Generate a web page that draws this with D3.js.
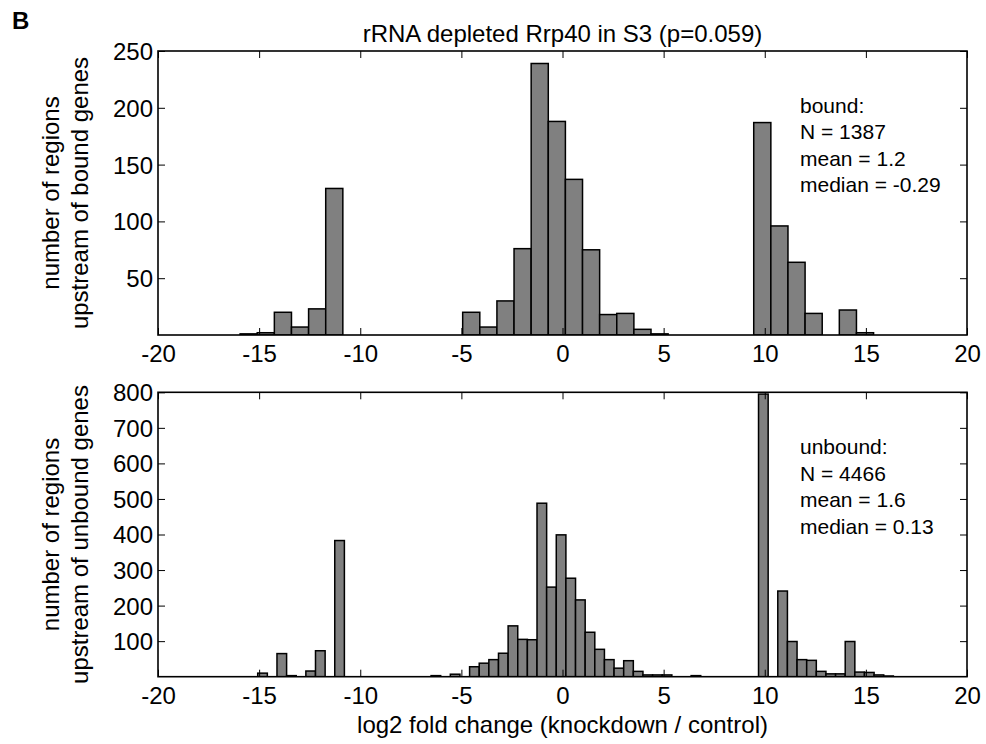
<!DOCTYPE html>
<html>
<head>
<meta charset="utf-8">
<script src="https://cdn.jsdelivr.net/npm/d3@7"></script>
<style>
  html, body { margin: 0; padding: 0; background: #fff; }
  svg { display: block; }
  text { font-family: "Liberation Sans", Arial, sans-serif; fill: #000; }
</style>
</head>
<body>
<svg id="chart" width="986" height="744"></svg>
<script>
// ---------- data ----------
const titleText = "rRNA depleted Rrp40 in S3 (p=0.059)";
const xTicks = [-20, -15, -10, -5, 0, 5, 10, 15, 20];

// bound panel histogram (37 bins)
const boundBinStart = -15.94;
const boundBinWidth = 0.8465;
const boundCounts = [1, 2, 20, 7, 23, 129, 0, 0, 0, 0, 0, 0, 0,
  20, 7, 30, 76, 239, 188, 137, 75, 18, 19, 5, 1,
  0, 0, 0, 0, 0, 187, 96, 64, 19, 0, 22, 2];
const boundYTicks = [50, 100, 150, 200, 250];
const boundStats = ["bound:", "N = 1387", "mean = 1.2", "median = -0.29"];
const boundYLabel = ["number of regions", "upstream of bound genes"];

// unbound panel histogram (66 bins)
const unboundBinStart = -15.07;
const unboundBinWidth = 0.4762;
const unboundCounts = [10, 0, 65, 3, 0, 16, 73, 0, 383,
  0, 0, 0, 0, 0, 0, 0, 0, 0,
  3, 0, 7, 0, 28, 38, 48, 66, 143, 105, 104, 488, 252, 399, 277, 216, 125, 77, 48, 24, 45, 15, 5, 5, 5,
  0, 0, 3, 0, 0, 0, 0, 0, 0,
  795, 0, 241, 99, 48, 46, 15, 8, 8, 99, 13, 12, 5, 2];
const unboundYTicks = [100, 200, 300, 400, 500, 600, 700, 800];
const unboundStats = ["unbound:", "N = 4466", "mean = 1.6", "median = 0.13"];
const unboundYLabel = ["number of regions", "upstream of unbound genes"];

const xLabel = "log2 fold change (knockdown / control)";

// ---------- layout ----------
const svg = d3.select("#chart");
const left = 158, right = 967;
const panels = [
  { top: 51, bottom: 335, yMax: 250, start: boundBinStart, width: boundBinWidth, counts: boundCounts,
    yTicks: boundYTicks, stats: boundStats, ylab: boundYLabel, id: "p1" },
  { top: 392.3, bottom: 676.7, yMax: 800, start: unboundBinStart, width: unboundBinWidth, counts: unboundCounts,
    yTicks: unboundYTicks, stats: unboundStats, ylab: unboundYLabel, id: "p2" }
];

const x = d3.scaleLinear().domain([-20, 20]).range([left, right]);
const tickLen = 7;
const fmt = d => String(d); // plain hyphen-minus as in the reference

// panel letter
svg.append("text").attr("x", 12).attr("y", 29)
  .attr("font-size", 24).attr("font-weight", "bold").text("B");

// title
svg.append("text").attr("x", (left + right) / 2).attr("y", 42)
  .attr("text-anchor", "middle").attr("font-size", 24).text(titleText);

panels.forEach(p => {
  const y = d3.scaleLinear().domain([0, p.yMax]).range([p.bottom, p.top]);
  const g = svg.append("g");

  g.append("clipPath").attr("id", "clip-" + p.id)
    .append("rect").attr("x", left).attr("y", p.top)
    .attr("width", right - left).attr("height", p.bottom - p.top);

  const bins = p.counts.map((c, i) => ({
    x0: p.start + i * p.width,
    x1: p.start + (i + 1) * p.width,
    c: c
  })).filter(d => d.c > 0);

  g.append("g").attr("clip-path", `url(#clip-${p.id})`)
    .selectAll("rect").data(bins).join("rect")
    .attr("x", d => x(d.x0))
    .attr("width", d => x(d.x1) - x(d.x0))
    .attr("y", d => y(d.c))
    .attr("height", d => y(0) - y(d.c))
    .attr("fill", "#808080")
    .attr("stroke", "#000")
    .attr("stroke-width", 1.5);

  // axes: bottom (inward ticks), top, left, right
  const axB = d3.axisBottom(x).tickValues(xTicks).tickSizeInner(-tickLen).tickSizeOuter(0)
    .tickFormat(fmt);
  const axT = d3.axisTop(x).tickValues(xTicks).tickSizeInner(-tickLen).tickSizeOuter(0).tickFormat("");
  const axL = d3.axisLeft(y).tickValues(p.yTicks).tickSizeInner(-tickLen).tickSizeOuter(0)
    .tickFormat(fmt);
  const axR = d3.axisRight(y).tickValues(p.yTicks).tickSizeInner(-tickLen).tickSizeOuter(0).tickFormat("");

  const gb = g.append("g").attr("transform", `translate(0,${p.bottom})`).call(axB);
  const gt = g.append("g").attr("transform", `translate(0,${p.top})`).call(axT);
  const gl = g.append("g").attr("transform", `translate(${left},0)`).call(axL);
  const gr = g.append("g").attr("transform", `translate(${right},0)`).call(axR);
  [gb, gt, gl, gr].forEach(a => {
    a.select(".domain").remove();
    a.selectAll(".tick line").attr("stroke", "#000").attr("stroke-width", 1);
    a.selectAll(".tick text").attr("font-size", 24)
      .attr("font-family", '"Liberation Sans", Arial, sans-serif').attr("fill", "#000");
  });
  gb.selectAll(".tick text").attr("dy", "0.71em").attr("y", 10);
  gl.selectAll(".tick text").attr("x", -5).attr("dy", "0.35em");

  // frame
  g.append("rect").attr("x", left).attr("y", p.top)
    .attr("width", right - left).attr("height", p.bottom - p.top)
    .attr("fill", "none").attr("stroke", "#000").attr("stroke-width", 1.6);

  // stats annotation
  const st = g.append("text").attr("font-size", 21);
  p.stats.forEach((s, i) => {
    st.append("tspan").attr("x", 800).attr("y", p.top + 62 + i * 26.4).text(s);
  });

  // y label
  const cy = (p.top + p.bottom) / 2;
  p.ylab.forEach((s, i) => {
    svg.append("text")
      .attr("transform", `translate(${59 + i * 29},${cy}) rotate(-90)`)
      .attr("text-anchor", "middle").attr("font-size", 24).text(s);
  });
});

// x label
svg.append("text").attr("x", (left + right) / 2).attr("y", 733)
  .attr("text-anchor", "middle").attr("font-size", 24).text(xLabel);
</script>
</body>
</html>
